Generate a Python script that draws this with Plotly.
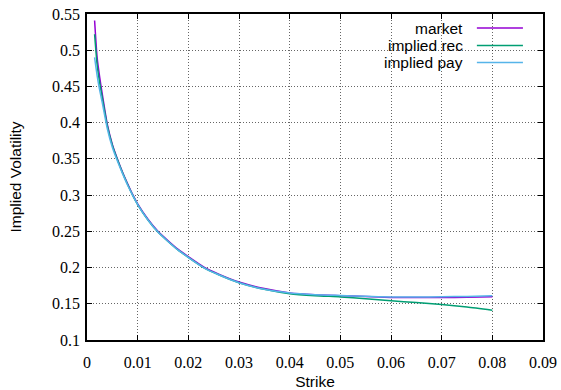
import plotly.graph_objects as go

# Strikes and implied volatilities
strike = [0.0015, 0.002, 0.0025, 0.003, 0.004, 0.005, 0.006, 0.007, 0.008, 0.009,
          0.010, 0.012, 0.014, 0.016, 0.018, 0.020, 0.023, 0.026, 0.030, 0.035,
          0.040, 0.045, 0.050, 0.055, 0.060, 0.065, 0.070, 0.075, 0.080]

market = [0.541, 0.490, 0.463, 0.440, 0.398, 0.370, 0.350, 0.332, 0.316, 0.301,
          0.288, 0.267, 0.250, 0.237, 0.225, 0.215, 0.201, 0.191, 0.180, 0.171,
          0.165, 0.1625, 0.1612, 0.1600, 0.1588, 0.1585, 0.1586, 0.1590, 0.1596]

implied_rec = [0.522, 0.480, 0.455, 0.435, 0.396, 0.369, 0.349, 0.331, 0.315, 0.300,
               0.287, 0.266, 0.249, 0.236, 0.224, 0.214, 0.200, 0.190, 0.179, 0.170,
               0.164, 0.1612, 0.1595, 0.1570, 0.1542, 0.1517, 0.1490, 0.1455, 0.1410]

implied_pay = [0.490, 0.465, 0.445, 0.428, 0.392, 0.366, 0.347, 0.330, 0.314, 0.300,
               0.287, 0.266, 0.249, 0.236, 0.224, 0.214, 0.200, 0.190, 0.179, 0.170,
               0.165, 0.1626, 0.1614, 0.1603, 0.1593, 0.1592, 0.1596, 0.1602, 0.1610]

series_names = ["market", "implied rec", "implied pay"]
series_values = [market, implied_rec, implied_pay]
series_colors = ["#9400d3", "#009e73", "#56b4e9"]

x_ticks = [0, 0.01, 0.02, 0.03, 0.04, 0.05, 0.06, 0.07, 0.08, 0.09]
y_ticks = [0.1, 0.15, 0.2, 0.25, 0.3, 0.35, 0.4, 0.45, 0.5, 0.55]
x_tick_labels = ["0", "0.01", "0.02", "0.03", "0.04", "0.05", "0.06", "0.07", "0.08", "0.09"]
y_tick_labels = ["0.1", "0.15", "0.2", "0.25", "0.3", "0.35", "0.4", "0.45", "0.5", "0.55"]

SANS = "Liberation Sans, Arial, sans-serif"
SERIF = "Liberation Serif, Times New Roman, serif"

fig = go.Figure()
for name, vals, col in zip(series_names, series_values, series_colors):
    fig.add_trace(go.Scatter(x=strike, y=vals, mode="lines", name=name,
                             line=dict(color=col, width=1.5, shape="spline", smoothing=0.6),
                             showlegend=False))

# gnuplot-style legend: right-aligned text with line sample to the right
leg_y = [0.957, 0.903, 0.851]
for name, col, yy in zip(series_names, series_colors, leg_y):
    fig.add_annotation(x=0.829, y=yy, xref="paper", yref="paper", text=name,
                       showarrow=False, xanchor="right", yanchor="middle",
                       font=dict(family=SANS, size=15.5, color="black"))
    fig.add_shape(type="line", xref="paper", yref="paper", x0=0.855, x1=0.956, y0=yy, y1=yy,
                  line=dict(color=col, width=1.5))

axis_common = dict(
    showline=True, linecolor="black", linewidth=1.5, mirror="ticks",
    ticks="inside", ticklen=5, tickcolor="black", tickwidth=1,
    showgrid=True, gridcolor="rgba(0,0,0,0.6)", griddash="1px,2px", gridwidth=1,
    zeroline=False,
    tickfont=dict(family=SERIF, size=16, color="black"),
)

fig.update_xaxes(range=[0, 0.09], tickvals=x_ticks, ticktext=x_tick_labels,
                 ticklabelstandoff=7,
                 title=dict(text="Strike", standoff=6,
                            font=dict(family=SANS, size=15.5, color="black")),
                 **axis_common)
fig.update_yaxes(range=[0.1, 0.55], tickvals=y_ticks, ticktext=y_tick_labels,
                 ticklabelstandoff=2,
                 title=dict(text="Implied Volatility", standoff=27,
                            font=dict(family=SANS, size=15.5, color="black")),
                 **axis_common)

fig.update_layout(width=561, height=390, margin=dict(l=87, r=18, t=14, b=50, autoexpand=False),
                  plot_bgcolor="white", paper_bgcolor="white", showlegend=False,
                  font=dict(family=SANS))

fig.write_html("out.html", config={"displayModeBar": False},
               post_script="document.body.style.margin='0';")
